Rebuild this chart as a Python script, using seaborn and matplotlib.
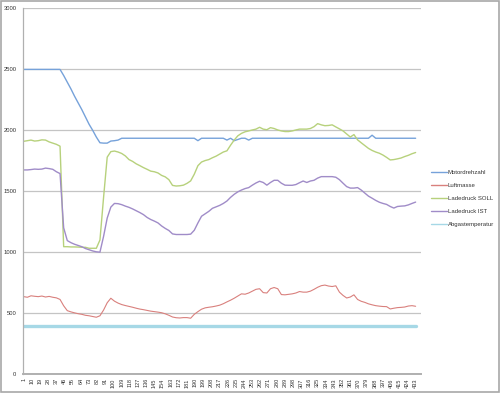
import matplotlib
matplotlib.use("Agg")
import matplotlib.pyplot as plt
import seaborn as sns
import pandas as pd

# sampled row numbers (every 4th logged row)
row = list(range(1, 434, 4))

motordrehzahl = [
    2500, 2500, 2500, 2500, 2500, 2500, 2500, 2500, 2500, 2500, 2500,
    2450, 2395, 2340, 2280, 2225, 2170, 2110, 2050, 2000, 1945,
    1898, 1895, 1895, 1912, 1915, 1920,
    1935, 1935, 1935, 1935, 1935, 1935, 1935, 1935, 1935, 1935,
    1935, 1935, 1935, 1935, 1935, 1935, 1935, 1935, 1935, 1935,
    1935, 1915, 1935, 1935, 1935, 1935, 1935, 1935, 1935, 1920,
    1935, 1915, 1925, 1935, 1935, 1920, 1935, 1935, 1935, 1935,
    1935, 1935, 1935, 1935, 1935, 1935, 1935, 1935, 1935, 1935,
    1935, 1935, 1935, 1935, 1935, 1935, 1935, 1935, 1935, 1935,
    1935, 1935, 1935, 1935, 1935, 1935, 1935, 1935, 1935,
    1960,
    1935, 1935, 1935, 1935, 1935, 1935, 1935, 1935, 1935, 1935, 1935, 1935,
]

luftmasse = [
    635, 630, 642, 638, 635, 640, 632, 637, 630, 625, 612,
    560, 520, 510, 502, 495, 490, 482, 478, 472, 466,
    478, 525, 585, 622, 598, 582, 570, 562, 555, 548,
    540, 533, 528, 522, 516, 512, 508, 503, 494, 482,
    468, 462, 460, 463, 463, 458, 490, 512, 532, 543,
    548, 552, 558, 565, 577, 592, 606, 622, 640, 658,
    655, 665, 680, 695, 700, 668, 665, 700, 710, 700,
    652, 650, 654, 658, 665, 677, 672, 672, 680, 695,
    712, 725, 730, 722, 718, 724, 672, 645, 624, 632,
    650, 612, 597, 588, 576, 568, 561, 557, 554, 553,
    534, 540, 545, 547, 550, 558, 561, 556,
]

ladedruck_soll = [
    1910, 1915, 1920, 1912, 1915, 1922, 1920, 1905, 1895, 1885, 1870,
    1045, 1045, 1043, 1043, 1042, 1040, 1040, 1032, 1032, 1032,
    1100, 1450, 1780, 1825, 1830, 1822, 1810, 1790, 1760, 1745,
    1725, 1710, 1694, 1680, 1665, 1660, 1650, 1630, 1618, 1595,
    1548, 1543, 1545, 1550, 1565, 1585, 1640, 1710, 1740, 1752,
    1760, 1775, 1788, 1805, 1822, 1832, 1878, 1920, 1955, 1975,
    1988, 1995, 2003, 2010, 2025, 2010, 2005, 2022, 2015, 2003,
    1995, 1990, 1990, 1995, 2003, 2010, 2010, 2010, 2015, 2030,
    2055, 2045, 2038, 2040, 2045, 2028, 2012, 1995, 1970, 1945,
    1965, 1922, 1898, 1875, 1852, 1835, 1822, 1812, 1797, 1778,
    1757, 1760, 1766, 1773, 1785, 1795, 1808, 1818,
]

ladedruck_ist = [
    1675, 1675, 1678, 1682, 1680, 1682, 1690, 1686, 1680, 1660, 1645,
    1200, 1095, 1078, 1065, 1055, 1045, 1030, 1020, 1010, 1003,
    1000, 1130, 1280, 1370, 1400, 1398, 1390, 1378, 1368, 1355,
    1340, 1325, 1308, 1285, 1268, 1255, 1240, 1215, 1195, 1178,
    1150, 1145, 1145, 1145, 1145, 1148, 1180, 1240, 1295, 1315,
    1335, 1360, 1372, 1384, 1400, 1420, 1450, 1475, 1495, 1510,
    1522, 1530, 1550, 1568, 1582, 1572, 1550, 1572, 1590, 1590,
    1566, 1550, 1549, 1549, 1555, 1570, 1584, 1572, 1584, 1590,
    1608, 1620, 1620, 1620, 1620, 1615, 1595, 1566, 1538, 1526,
    1526, 1530, 1510, 1485, 1460, 1443, 1425, 1410, 1400, 1392,
    1375, 1362, 1375, 1378, 1380, 1388, 1400, 1411,
]

abgas_row = [1, 433]
abgastemperatur = [390, 390]

series_names = ["Motordrehzahl", "Luftmasse", "Ladedruck SOLL", "Ladedruck IST", "Abgastemperatur"]
x_tick_labels = [str(v) for v in range(1, 434, 9)]

colors = ["#76a2da", "#d9807d", "#b7d17c", "#a08cc8", "#a6d8e6"]
widths = [1.0, 0.8, 1.0, 1.0, 2.4]

sns.set_theme(style="white")
plt.rcParams["font.family"] = ["Liberation Sans", "DejaVu Sans"]

fig = plt.figure(figsize=(5.0, 3.93), dpi=100)
ax = fig.add_axes([0.0466, 0.0483, 0.7948, 0.9301])

ys = [motordrehzahl, luftmasse, ladedruck_soll, ladedruck_ist, abgastemperatur]
xs = [row, row, row, row, abgas_row]
for name, xv, yv, c, w in zip(series_names, xs, ys, colors, widths):
    df = pd.DataFrame({"row": xv, "value": yv})
    sns.lineplot(data=df, x="row", y="value", ax=ax, color=c, linewidth=w, label=name)

ax.set_xlim(0.5, 438.6)
ax.set_ylim(0, 3000)
ax.set_yticks(range(0, 3001, 500))
ax.set_yticklabels([str(v) for v in range(0, 3001, 500)], fontsize=4.2, color="#333333")
ax.set_xticks(list(range(1, 434, 9)))
ax.set_xticklabels(x_tick_labels, rotation=90, fontsize=4.0, color="#333333")
ax.set_xlabel("")
ax.set_ylabel("")
ax.grid(axis="y", color="#c4c4c4", linewidth=0.9)
ax.grid(axis="x", visible=False)
ax.set_axisbelow(True)
for s in ["top", "right"]:
    ax.spines[s].set_visible(False)
ax.spines["left"].set_color("#b0b0b0")
ax.spines["left"].set_linewidth(0.9)
ax.spines["bottom"].set_color("#b0b0b0")
ax.spines["bottom"].set_linewidth(1.4)
ax.tick_params(axis="y", length=0, pad=5)
ax.tick_params(axis="x", length=2, width=0.5, color="#b0b0b0", pad=1)

leg = ax.legend(loc="upper left", bbox_to_anchor=(0.862, 0.567), bbox_transform=fig.transFigure,
                frameon=False, fontsize=4.3, handlelength=2.6, handletextpad=0.2,
                labelspacing=1.3, borderaxespad=0, borderpad=0)
for t in leg.get_texts():
    t.set_color("#333333")
for h in leg.get_lines():
    h.set_linewidth(1.0)

fig.patches.append(plt.Rectangle((0.002, 0.003), 0.995, 0.994, transform=fig.transFigure,
                                 fill=False, edgecolor="#a8a8a8", linewidth=1.2))

fig.savefig("out.png", dpi=100, facecolor="white")
